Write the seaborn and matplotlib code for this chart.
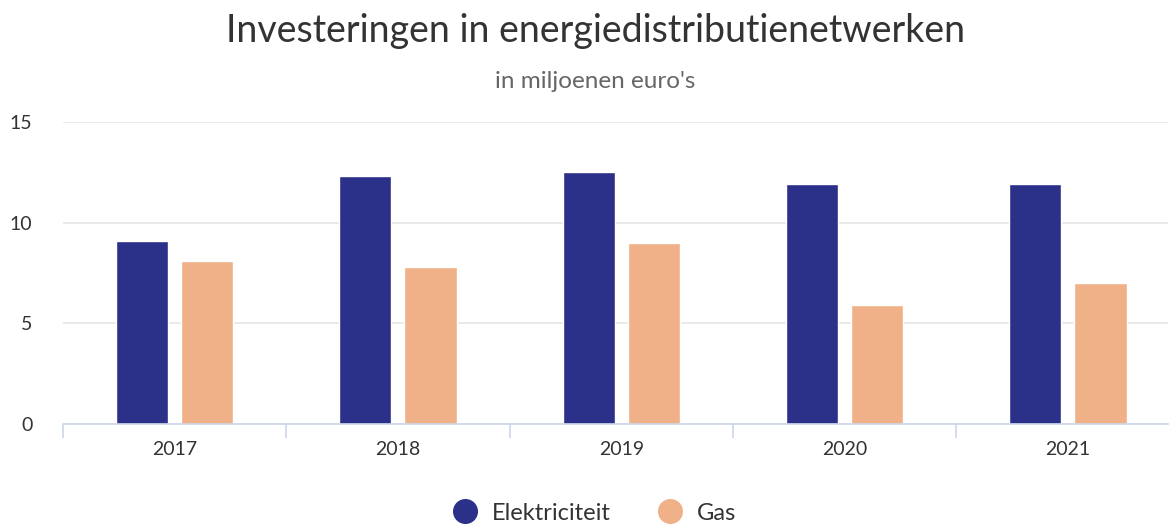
import pandas as pd
import matplotlib.pyplot as plt
import seaborn as sns
from matplotlib.lines import Line2D

# Data
years = ['2017', '2018', '2019', '2020', '2021']
elektriciteit = [9.1, 12.3, 12.5, 11.9, 11.9]
gas = [8.1, 7.8, 9.0, 5.9, 7.0]
series_names = ['Elektriciteit', 'Gas']
colors = {'Elektriciteit': '#2b3188', 'Gas': '#f0b088'}

df = pd.DataFrame({
    'jaar': years * 2,
    'waarde': elektriciteit + gas,
    'soort': [series_names[0]] * len(years) + [series_names[1]] * len(years),
})

sns.set_style('white')
plt.rcParams['font.family'] = ['Lato', 'DejaVu Sans']

fig = plt.figure(figsize=(11.7, 5.25), dpi=100)
ax = fig.add_axes([63 / 1170, 101 / 525, 1105 / 1170, 302 / 525])

sns.barplot(data=df, x='jaar', y='waarde', hue='soort', palette=colors,
            width=0.584, gap=0.2, saturation=1, legend=False, ax=ax)

# plot area is cut off slightly on the right in the original
ax.set_xlim(-0.5, -0.5 + 1105 / 223.3)
ax.set_ylim(0, 15)
ax.set_yticks([0, 5, 10, 15])
ax.yaxis.grid(True, color='#e6e6e6', linewidth=1.2)
ax.set_axisbelow(True)
for side in ['top', 'right', 'left']:
    ax.spines[side].set_visible(False)
ax.spines['bottom'].set_color('#ccd6eb')
ax.spines['bottom'].set_linewidth(1.2)

ax.set_xlabel('')
ax.set_ylabel('')
ax.tick_params(axis='y', length=0, pad=22, labelsize=14, labelcolor='#333333')
ax.tick_params(axis='x', which='major', length=0, pad=12, labelsize=14, labelcolor='#333333')
ax.set_xticks([i - 0.5 for i in range(len(years))], minor=True)
ax.tick_params(axis='x', which='minor', bottom=True, length=10, width=1.2, color='#ccd6eb')

fig.text(0.509, 1 - 31 / 525, 'Investeringen in energiedistributienetwerken',
         ha='center', va='center', fontsize=27, color='#333333')
fig.text(0.509, 1 - 81 / 525, "in miljoenen euro's",
         ha='center', va='center', fontsize=17.5, color='#666666')

handles = [Line2D([0], [0], marker='o', linestyle='', markersize=17,
                  markerfacecolor=colors[n], markeredgecolor=colors[n], label=n)
           for n in series_names]
fig.legend(handles=handles, loc='center', bbox_to_anchor=(0.503, 1 - 513 / 525),
           ncol=2, frameon=False, fontsize=17, labelcolor='#333333',
           handletextpad=0.15, columnspacing=1.5)

fig.savefig('out.png', dpi=100)
